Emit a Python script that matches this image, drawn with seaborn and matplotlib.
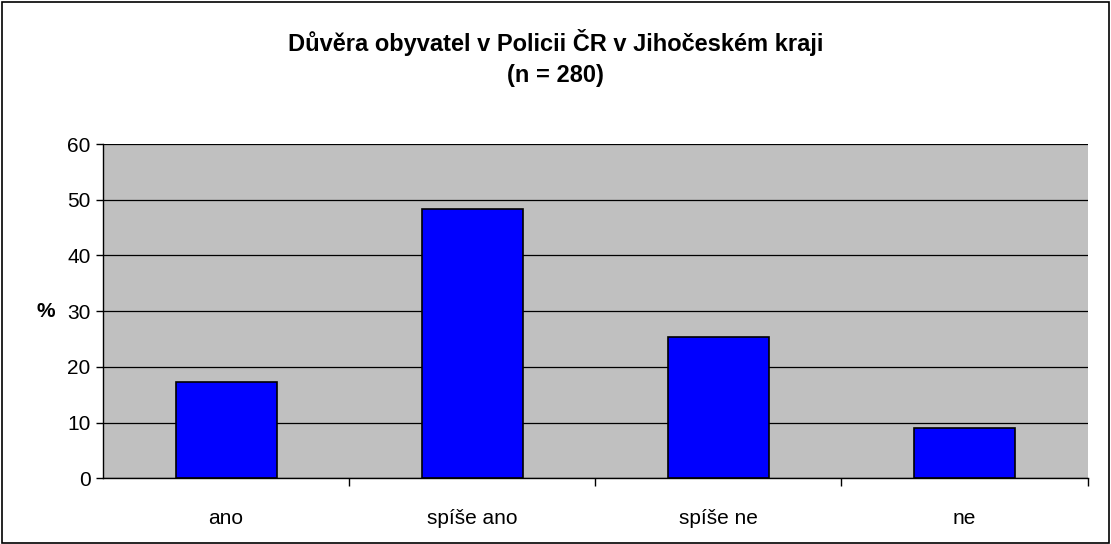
import matplotlib
matplotlib.use("Agg")
import matplotlib.pyplot as plt
import seaborn as sns
import pandas as pd
from matplotlib.patches import Rectangle

categories = ["ano", "spíše ano", "spíše ne", "ne"]
values = [17.2, 48.4, 25.4, 9.1]
yticks = [0, 10, 20, 30, 40, 50, 60]

sns.set_theme(style="white")
plt.rcParams['font.family'] = ['Liberation Sans', 'DejaVu Sans']
plt.rcParams['text.color'] = 'black'
plt.rcParams['xtick.color'] = 'black'
plt.rcParams['ytick.color'] = 'black'
plt.rcParams['axes.labelcolor'] = 'black'

df = pd.DataFrame({"cat": categories, "val": values})

fig = plt.figure(figsize=(11.11, 5.44), dpi=100)
ax = fig.add_axes([0.0927, 0.121, 0.979 - 0.0927, 0.735 - 0.121])
ax.set_facecolor("#C0C0C0")
ax.set_axisbelow(True)
ax.yaxis.grid(True, color="black", linewidth=0.9)

sns.barplot(data=df, x="cat", y="val", ax=ax, color="#0000FF", width=0.41,
            edgecolor="black", linewidth=1.2, saturation=1)

ax.set_ylim(0, 60)
ax.set_yticks(yticks)
ax.set_xlim(-0.5, 3.5)
ax.set_xlabel("")
ax.set_ylabel("%", rotation=0, fontsize=15, fontweight="bold", va="center")
ax.yaxis.set_label_coords(-0.058, 0.5)

ax.spines["top"].set_visible(False)
ax.spines["right"].set_visible(False)
ax.spines["left"].set_color("black")
ax.spines["bottom"].set_color("black")
ax.spines["left"].set_linewidth(1.0)
ax.spines["bottom"].set_linewidth(1.0)

ax.tick_params(axis="y", which="major", length=5, width=1, color="black",
               direction="out", labelsize=15, left=True, pad=4, labelcolor="black")
ax.tick_params(axis="x", which="major", length=0, labelsize=15, pad=22, labelcolor="black")
ax.set_xticks(range(len(categories)))
ax.set_xticks([0.5, 1.5, 2.5, 3.5], minor=True)
ax.tick_params(axis="x", which="minor", length=6, width=1, color="black",
               direction="out", bottom=True)

fig.text(0.5, 0.893, "Důvěra obyvatel v Policii ČR v Jihočeském kraji\n(n = 280)",
         ha="center", va="center", fontsize=17, fontweight="bold",
         linespacing=1.45, color="black")

fig.patches.append(Rectangle((0.0015, 0.002), 0.997, 0.995, transform=fig.transFigure,
                             fill=False, edgecolor="black", linewidth=1.2))

fig.savefig("out.png", dpi=100)
